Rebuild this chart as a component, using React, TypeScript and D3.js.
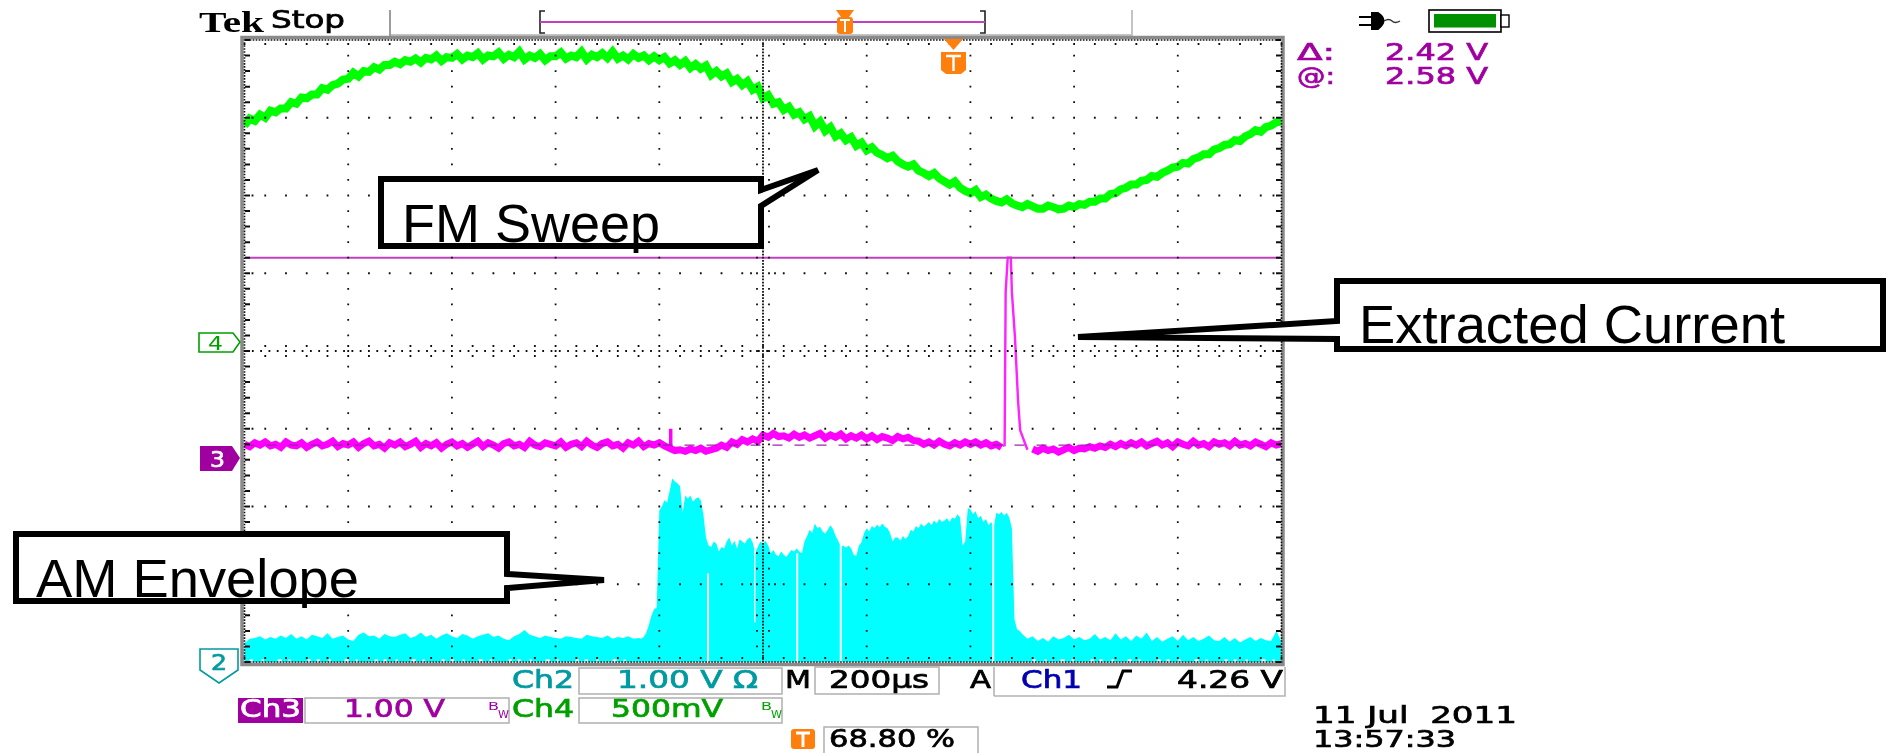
import React from "react";
import * as d3 from "d3";

// All trace values are in graticule divisions: time 0..10, level 0..8 measured from the bottom edge.
const sweepStep = 0.05;
const sweepLevels = [
  6.90,6.99,6.96,7.04,7.0,7.09,7.07,7.12,7.12,7.2,7.18,7.26,7.25,7.3,7.3,7.38,7.36,7.42,7.44,7.49,
  7.5,7.58,7.53,7.6,7.59,7.65,7.62,7.68,7.68,7.72,7.69,7.74,7.72,7.76,7.71,7.77,7.75,7.8,7.73,7.78,
  7.77,7.82,7.75,7.8,7.78,7.83,7.75,7.8,7.79,7.84,7.76,7.81,7.78,7.85,7.75,7.8,7.77,7.82,7.74,7.79,
  7.79,7.84,7.76,7.8,7.78,7.85,7.75,7.81,7.78,7.83,7.77,7.85,7.76,7.8,7.75,7.82,7.77,7.8,7.74,7.79,
  7.74,7.78,7.7,7.74,7.68,7.73,7.64,7.69,7.63,7.67,7.55,7.6,7.53,7.57,7.46,7.5,7.42,7.47,7.36,7.4,
  7.25,7.29,7.18,7.2,7.1,7.14,7.04,7.07,6.98,7.02,6.89,6.95,6.83,6.88,6.76,6.8,6.71,6.75,6.64,6.68,
  6.58,6.62,6.55,6.52,6.48,6.51,6.44,6.4,6.37,6.4,6.32,6.29,6.25,6.29,6.22,6.18,6.14,6.18,6.1,6.06,
  6.03,6.07,5.98,6.01,5.96,5.93,5.91,5.95,5.9,5.87,5.85,5.89,5.86,5.83,5.83,5.87,5.85,5.82,5.83,5.87,
  5.85,5.89,5.88,5.92,5.92,5.96,5.96,6.02,6.03,6.08,6.1,6.14,6.14,6.19,6.2,6.25,6.24,6.29,6.32,6.36,
  6.37,6.42,6.41,6.47,6.49,6.53,6.53,6.59,6.61,6.65,6.66,6.71,6.7,6.76,6.79,6.84,6.82,6.88,6.9,6.94,
  6.95,
];

const currentStep = 0.05;
const currentBeforeSpike = [
  2.8,2.77,2.82,2.79,2.83,2.78,2.8,2.76,2.83,2.79,2.78,2.82,2.76,2.8,2.83,2.78,2.8,2.84,2.77,2.81,
  2.79,2.83,2.76,2.81,2.84,2.78,2.8,2.75,2.82,2.79,2.83,2.77,2.8,2.84,2.76,2.81,2.78,2.82,2.75,2.8,
  2.83,2.78,2.81,2.76,2.8,2.84,2.77,2.82,2.79,2.75,2.81,2.83,2.78,2.8,2.76,2.84,2.79,2.77,2.82,2.8,
  2.78,2.83,2.76,2.8,2.82,2.77,2.84,2.79,2.76,2.81,2.83,2.78,2.8,2.75,2.82,2.79,2.84,2.77,2.81,2.79,
  2.82,2.78,2.75,2.72,2.73,2.71,2.74,2.72,2.75,2.71,2.73,2.75,2.79,2.76,2.83,2.8,2.86,2.83,2.87,2.84,
  2.92,2.89,2.94,2.9,2.91,2.88,2.93,2.89,2.92,2.88,2.91,2.94,2.88,2.92,2.89,2.93,2.87,2.91,2.88,2.92,
  2.87,2.91,2.86,2.9,2.88,2.85,2.9,2.87,2.89,2.85,2.84,2.8,2.83,2.79,2.84,2.8,2.78,2.82,2.79,2.83,
  2.8,2.83,2.79,2.82,2.78,2.8,2.76,
];
const currentAfterStart = 7.6;
const currentAfterSpike = [
  2.74,2.71,2.75,2.72,2.74,2.7,2.73,2.76,2.72,2.75,2.74,2.77,2.75,2.78,2.76,2.8,2.77,2.81,2.78,2.82,
  2.79,2.83,2.78,2.81,2.84,2.79,2.82,2.77,2.83,2.8,2.78,2.84,2.79,2.81,2.77,2.83,2.8,2.82,2.78,2.84,
  2.79,2.81,2.78,2.83,2.8,2.77,2.82,2.79,2.81,
];
const spikeTimes = [7.31,7.33,7.34,7.36,7.39,7.40,7.43,7.46,7.48,7.55];
const spikeLevels = [2.78,2.79,4.76,5.2,5.2,4.76,4.17,3.35,2.98,2.73];
const glitchTimes = [4.11, 4.11];
const glitchLevels = [3.0, 2.74];

const envelopeStep = 0.05;
const envelopeFloorBefore = [
  0.24,0.3,0.31,0.33,0.29,0.32,0.3,0.34,0.31,0.36,0.3,0.33,0.29,0.35,0.33,0.31,0.37,0.3,0.32,0.34,
  0.29,0.27,0.35,0.38,0.33,0.34,0.3,0.36,0.33,0.32,0.35,0.37,0.31,0.33,0.38,0.32,0.35,0.3,0.34,0.37,
  0.33,0.31,0.36,0.34,0.3,0.33,0.35,0.37,0.32,0.34,0.3,0.28,0.33,0.36,0.41,0.35,0.33,0.31,0.34,0.32,
  0.31,0.3,0.33,0.32,0.31,0.3,0.35,0.33,0.32,0.31,0.34,0.3,0.32,0.31,0.33,0.3,
];
const envelopeBurstStart = 3.8;
const envelopeBurstStep = 0.025;
const envelopeBurst = [
  0.31,0.3,0.32,0.38,0.48,0.6,0.68,0.7,
  1.95,2.0,2.08,2.05,2.2,2.36,2.32,2.3,2.26,1.92,2.14,2.1,2.14,2.06,2.1,2.12,2.08,1.9,1.6,1.5,
  1.48,1.55,1.52,1.42,1.48,1.46,1.55,1.6,1.5,1.56,1.46,1.58,1.55,1.52,1.58,1.6,1.54,1.4,1.48,1.55,
  1.52,1.56,1.5,1.4,1.44,1.38,1.36,1.42,1.38,1.35,1.4,1.44,1.42,1.46,1.42,1.4,
  1.55,1.62,1.7,1.66,1.78,1.72,1.74,1.68,1.65,1.7,1.76,1.71,1.62,1.56,1.48,1.5,
  1.47,1.5,1.46,1.38,1.36,1.5,1.54,1.66,
  1.72,1.68,1.75,1.72,1.77,1.73,1.78,1.74,1.72,1.66,1.55,1.6,1.6,1.56,1.62,1.58,1.62,1.7,
  1.68,1.75,1.72,1.78,1.74,1.77,1.8,1.76,1.82,1.78,1.84,1.8,1.82,1.85,1.8,1.86,1.84,1.9,1.86,1.5,1.55,1.98,
  1.96,1.9,1.94,1.85,1.88,1.8,1.84,1.76,1.8,1.74,1.92,1.9,1.93,1.88,1.92,1.86,1.72,0.55,0.42,0.4,
];
const envelopeAfterStart = 7.5;
const envelopeFloorAfter = [
  0.36,0.3,0.33,0.27,0.31,0.26,0.33,0.29,0.31,0.35,0.29,0.32,0.28,0.3,0.36,0.29,0.32,0.28,0.37,0.29,
  0.33,0.27,0.34,0.3,0.38,0.27,0.32,0.26,0.3,0.33,0.27,0.35,0.28,0.32,0.27,0.3,0.34,0.28,0.27,0.32,
  0.26,0.31,0.25,0.29,0.32,0.27,0.31,0.28,0.27,0.4,0.26,
];
const dropoutTimes = [4.47, 4.92, 5.33, 5.75, 7.22];
const dropoutFrom = [0, 0.51, 0, 0, 0];
const dropoutTo = [1.14, 1.44, 1.4, 1.5, 1.95];
const speckleSpans = [[0.05, 3.7], [7.6, 9.95]];

const cursorLevel = 5.2;
const referenceLevel = 2.79;

const topReadouts = [["Δ:", "2.42 V"], ["@:", "2.58 V"]];

const xScale = d3.scaleLinear().domain([0, 10]).range([244.5, 1281.5]);
const yScale = d3.scaleLinear().domain([0, 8]).range([662, 40]);

type Pt = [number, number];
const line = d3.line<Pt>().x((d) => xScale(d[0])).y((d) => yScale(d[1]));
const area = d3
  .area<Pt>()
  .x((d) => xScale(d[0]))
  .y0(yScale(0))
  .y1((d) => yScale(d[1]));

const sweepPts: Pt[] = sweepLevels.map((v, i) => [i * sweepStep, v]);
const currentA: Pt[] = currentBeforeSpike.map((v, i) => [i * currentStep, v]);
const currentB: Pt[] = currentAfterSpike.map((v, i) => [currentAfterStart + i * currentStep, v]);
const spikePts: Pt[] = spikeTimes.map((t, i) => [t, spikeLevels[i]]);
const glitchPts: Pt[] = glitchTimes.map((t, i) => [t, glitchLevels[i]]);
const envelopePts: Pt[] = [
  ...envelopeFloorBefore.map((v, i): Pt => [i * envelopeStep, v]),
  ...envelopeBurst.map((v, i): Pt => [envelopeBurstStart + i * envelopeBurstStep, v]),
  ...envelopeFloorAfter.map((v, i): Pt => [envelopeAfterStart + i * envelopeStep, v]),
];

function gridPath(): string {
  let d = "";
  const dot = (x: number, y: number, w = 1.8, h = 1.8) => {
    d += `M${x - w / 2},${y - h / 2}h${w}v${h}h${-w}Z`;
  };
  const majorX = d3.range(1, 10);
  const majorY = d3.range(1, 8);
  majorX.forEach((k) => {
    if (k === 5) return;
    d3.range(1, 40).forEach((j) => dot(xScale(k), yScale(j / 5)));
  });
  majorY.forEach((k) => {
    if (k === 4) return;
    d3.range(1, 50).forEach((j) => dot(xScale(j / 5), yScale(k)));
    [-12, -6, 6, 12].forEach((o) => dot(xScale(5) + o, yScale(k)));
    [4, 8].forEach((o) => { dot(xScale(0) + o, yScale(k)); dot(xScale(10) - o, yScale(k)); });
  });
  // central crosshair
  d3.range(0, 200).forEach((j) => dot(xScale(5), yScale(j / 25), 1.8, 1.8));
  d3.range(0, 250).forEach((j) => { if (j % 2 === 0) dot(xScale(j / 25), yScale(4), 1.8, 1.8); });
  d3.range(1, 40).forEach((j) => { dot(xScale(5) - 6, yScale(j / 5)); dot(xScale(5) + 6, yScale(j / 5)); });
  d3.range(1, 50).forEach((j) => { dot(xScale(j / 5), yScale(4) - 5); dot(xScale(j / 5), yScale(4) + 5); });
  // edge ticks
  d3.range(0, 51).forEach((j) => {
    dot(xScale(j / 5), yScale(8) + 4);
    dot(xScale(j / 5), yScale(0) - 4);
  });
  d3.range(0, 41).forEach((j) => {
    dot(xScale(0) + 3, yScale(j / 5), 5, 2);
    dot(xScale(10) - 3, yScale(j / 5), 5, 2);
  });
  d3.range(0, 346).forEach((j) => {
    dot(xScale(j / 34.6), yScale(8), 1.6, 1.6);
    dot(xScale(j / 34.6), yScale(0), 1.6, 1.6);
  });
  d3.range(0, 208).forEach((j) => {
    dot(xScale(0), yScale(j / 26), 1.6, 1.6);
    dot(xScale(10), yScale(j / 26), 1.6, 1.6);
  });
  return d;
}

const scopeFont = "'DejaVu Sans', sans-serif";
const calloutFont = "'Liberation Sans', Arial, sans-serif";

function T(p: { x: number; y: number; w: number; s: number; c?: string; f?: string; b?: boolean; heavy?: number; children: string }) {
  return (
    <text x={p.x} y={p.y} textLength={p.w} lengthAdjust="spacingAndGlyphs" fontSize={p.s}
      fill={p.c ?? "#000"} stroke={p.heavy ? (p.c ?? "#000") : "none"} strokeWidth={p.heavy ?? 0}
      fontFamily={p.f ?? scopeFont} fontWeight={p.b ? 700 : 400} xmlSpace="preserve">
      {p.children}
    </text>
  );
}

function Box(p: { x: number; y: number; w: number; h: number }) {
  return <rect x={p.x} y={p.y} width={p.w} height={p.h} fill="#fff" stroke="#b4b4b4" strokeWidth={1.6} />;
}

export default function App() {
  const PURPLE = "#a000a0";
  const TEAL = "#009aa0";
  const GREEN = "#00a000";
  const H = 0.7;
  return (
    <svg width={1888} height={753} style={{ position: "absolute", left: 0, top: 0, background: "#fff" }}>
      <defs>
        <filter id="soft" x="0" y="0" width="100%" height="100%" filterUnits="userSpaceOnUse" primitiveUnits="userSpaceOnUse">
          <feGaussianBlur stdDeviation="0.5" />
        </filter>
      </defs>
      <g filter="url(#soft)">
      {/* top strip */}
      <path d="M390,10V36M1132,10V36M390,35H1132" stroke="#c4c4c4" strokeWidth={2} fill="none" />
      <path d="M390,10V36" stroke="#909090" strokeWidth={1.5} />
      <T x={199} y={32} w={65} s={29} f="'Liberation Serif', serif" b>Tek</T>
      <T x={271} y={28} w={74} s={24} heavy={H}>Stop</T>
      <path d="M545,11H540V33H545M980,11H985V33H980" fill="none" stroke="#222" strokeWidth={1.6} />
      <line x1={540} x2={985} y1={22} y2={22} stroke="#c040c0" strokeWidth={2} />
      <path d="M836,10H854L849,17H841Z" fill="#ff7f0e" />
      <rect x={837} y={17} width={16} height={17} rx={3} fill="#ff7f0e" />
      <path d="M840,20H850M845,20V32" stroke="#fff" strokeWidth={2} />

      {/* traces */}
      <path d={area(envelopePts) ?? ""} fill="#00ffff" />
      {dropoutTimes.map((t, i) => (
        <line key={i} x1={xScale(t)} x2={xScale(t)} y1={yScale(dropoutFrom[i])} y2={yScale(dropoutTo[i])}
          stroke="#fff" strokeWidth={i === 1 ? 1.4 : 2} />
      ))}
      {speckleSpans.map((s, i) => (
        <line key={i} x1={xScale(s[0])} x2={xScale(s[1])} y1={yScale(0) - 1.5} y2={yScale(0) - 1.5}
          stroke="#fff" strokeWidth={2.5} strokeDasharray="3 9 2 14 4 7 2 17 3 6" />
      ))}
      <path d={line(sweepPts) ?? ""} fill="none" stroke="#00ff00" strokeWidth={8} />
      <path d={line(currentA) ?? ""} fill="none" stroke="#ff00ff" strokeWidth={7} />
      <path d={line(currentB) ?? ""} fill="none" stroke="#ff00ff" strokeWidth={7} />
      <path d={line(spikePts) ?? ""} fill="none" stroke="#ff20ff" strokeWidth={2.4} />
      <path d={line(glitchPts) ?? ""} fill="none" stroke="#ff00ff" strokeWidth={3.5} />
      <line x1={xScale(0)} x2={xScale(10)} y1={yScale(referenceLevel)} y2={yScale(referenceLevel)}
        stroke="#a020b0" strokeWidth={1.2} strokeDasharray="10 12" />
      <line x1={xScale(0)} x2={xScale(10)} y1={yScale(cursorLevel)} y2={yScale(cursorLevel)}
        stroke="#c040c0" strokeWidth={2} />

      {/* graticule */}
      <path d="M242,37.5H1283V664.5H242Z" fill="none" stroke="#8a8a8a" strokeWidth={3.5} />
      <path d={gridPath()} fill="#111" />

      {/* trigger marker */}
      <path d="M944,39H963L953.5,50Z" fill="#ff7f0e" />
      <path d="M941,52H966V70L961,74H946L941,70Z" fill="#ff7f0e" />
      <path d="M946,56H961M953.5,56V71" stroke="#fff" strokeWidth={2.5} />

      {/* channel markers */}
      <path d="M199,333H233L240,342L233,352H199Z" fill="#fff" stroke="#00a000" strokeWidth={1.6} />
      <T x={208} y={350} w={15} s={20} c={GREEN}>4</T>
      <path d="M200,446H232L240,458L232,471H200Z" fill={PURPLE} />
      <T x={210} y={467} w={15} s={22} c="#fff" heavy={H}>3</T>
      <path d="M200,649H238V670L219,683L200,670Z" fill="#fff" stroke={TEAL} strokeWidth={1.6} />
      <T x={211} y={670} w={16} s={22} c={TEAL} heavy={H}>2</T>

      {/* top right */}
      <path d="M1372,13H1378Q1389,20 1378,29H1372ZM1359,17H1372M1359,25H1372" fill="#000" stroke="#000" strokeWidth={2} />
      <path d="M1384,21q5,-3 8,0t8,0" fill="none" stroke="#333" strokeWidth={1.4} />
      <rect x={1429} y={10} width={72} height={22} fill="#fff" stroke="#000" strokeWidth={1.6} />
      <rect x={1434} y={14} width={62} height={13.5} fill="#009000" />
      <rect x={1501} y={15} width={8} height={12} fill="#fff" stroke="#000" strokeWidth={1.4} />
      {topReadouts.map((r, i) => (
        <g key={r[0]}>
          <T x={1297} y={60 + i * 24} w={38} s={23} c={PURPLE} heavy={H}>{r[0]}</T>
          <T x={1385} y={60 + i * 24} w={103} s={23} c={PURPLE} heavy={H}>{r[1]}</T>
        </g>
      ))}

      {/* bottom readouts */}
      <T x={512} y={688} w={62} s={24} c={TEAL} heavy={H}>Ch2</T>
      <Box x={579} y={668} w={203} h={26} />
      <T x={617} y={688} w={141} s={24} c={TEAL} heavy={H}>1.00 V Ω</T>
      <rect x={238} y={698} width={65} height={25} fill={PURPLE} />
      <T x={240} y={717} w={61} s={24} c="#fff" heavy={H}>Ch3</T>
      <Box x={305} y={698} w={204} h={25} />
      <T x={344} y={717} w={101} s={24} c={PURPLE} heavy={H}>1.00 V</T>
      <T x={488} y={710} w={11} s={11} c={PURPLE}>B</T>
      <T x={498} y={718} w={11} s={11} c={PURPLE}>W</T>
      <T x={512} y={717} w={62} s={24} c={GREEN} heavy={H}>Ch4</T>
      <Box x={579} y={698} w={203} h={25} />
      <T x={611} y={717} w={112} s={24} c={GREEN} heavy={H}>500mV</T>
      <T x={761} y={710} w={11} s={11} c={GREEN}>B</T>
      <T x={771} y={718} w={11} s={11} c={GREEN}>W</T>
      <T x={785} y={688} w={26} s={24} heavy={H}>M</T>
      <Box x={815} y={667} w={124} h={27} />
      <T x={829} y={688} w={100} s={24} heavy={H}>200µs</T>
      <T x={970} y={688} w={21} s={24} heavy={H}>A</T>
      <path d="M994,696V667M994,696H1285V667" fill="none" stroke="#b4b4b4" strokeWidth={1.6} />
      <T x={1021} y={688} w={61} s={24} c="#0000b0" heavy={H}>Ch1</T>
      <path d="M1107,687H1117L1123,671H1132" fill="none" stroke="#000" strokeWidth={3} />
      <T x={1177} y={688} w={106} s={24} heavy={H}>4.26 V</T>
      <rect x={791} y={729} width={24} height={20} rx={3} fill="#ff7f0e" />
      <path d="M796,733H810M803,733V747" stroke="#fff" strokeWidth={3} />
      <Box x={824} y={727} w={154} h={28} />
      <T x={829} y={747} w={126} s={24} heavy={H}>68.80 %</T>
      <T x={1313} y={723} w={204} s={23} heavy={H}>11 Jul  2011</T>
      <T x={1313} y={747} w={143} s={23} heavy={H}>13:57:33</T>
      </g>

      {/* callouts */}
      <path d="M381,179H761V190L818,170L761,206V246H381Z" fill="#fff" stroke="#000" strokeWidth={6} />
      <T x={402} y={242} w={258} s={53} f={calloutFont}>FM Sweep</T>
      <path d="M1337,281H1883V349H1337V339L1078,337L1337,321Z" fill="#fff" stroke="#000" strokeWidth={6} />
      <T x={1359} y={343} w={426} s={53} f={calloutFont}>Extracted Current</T>
      <path d="M16,534H507V574L604,580L507,588V601H16Z" fill="#fff" stroke="#000" strokeWidth={6} />
      <T x={36} y={597} w={323} s={53} f={calloutFont}>AM Envelope</T>
    </svg>
  );
}
